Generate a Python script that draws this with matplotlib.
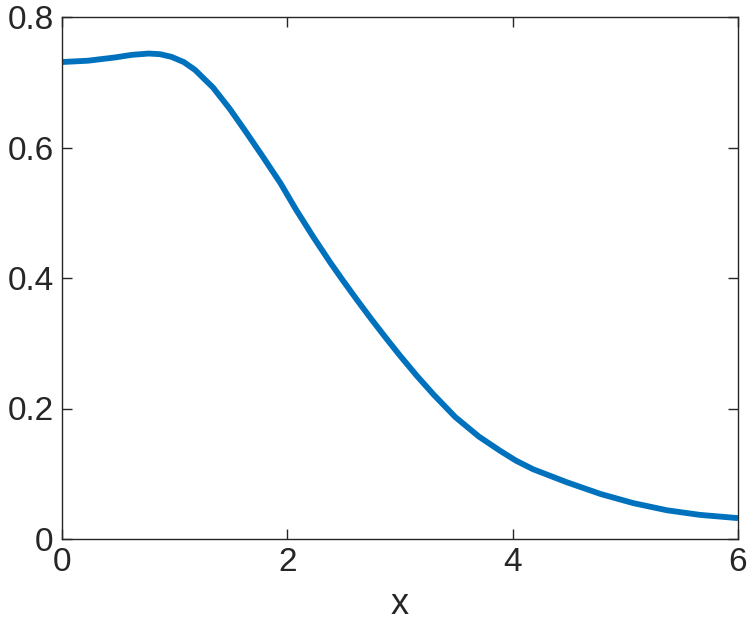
import numpy as np
import matplotlib
matplotlib.use("Agg")
import matplotlib.pyplot as plt

# values
x_vals = [0.0, 0.23, 0.47, 0.62, 0.77, 0.87, 0.97, 1.08, 1.18, 1.34, 1.49, 1.64, 1.79, 1.94, 2.08,
          2.23, 2.38, 2.49, 2.62, 2.75, 2.88, 3.0, 3.15, 3.3, 3.49, 3.7, 3.89, 4.03, 4.18, 4.48,
          4.78, 5.07, 5.37, 5.66, 6.0]
y_vals = [0.731, 0.733, 0.738, 0.742, 0.744, 0.743, 0.739, 0.731, 0.719, 0.692, 0.659, 0.622, 0.584, 0.545, 0.504,
          0.463, 0.424, 0.397, 0.366, 0.336, 0.307, 0.281, 0.250, 0.221, 0.187, 0.157, 0.135, 0.120, 0.107, 0.087,
          0.069, 0.055, 0.044, 0.037, 0.032]

x_ticks = [0, 2, 4, 6]
y_ticks = [0, 0.2, 0.4, 0.6, 0.8]
y_labels = ["0", "0.2", "0.4", "0.6", "0.8"]

plt.rcParams['font.family'] = ['Liberation Sans', 'DejaVu Sans']
axis_color = '#262626'

fig = plt.figure(figsize=(7.47, 6.23), dpi=100)
ax = fig.add_axes([62 / 747, 84 / 623, 676 / 747, 522 / 623])

ax.plot(x_vals, y_vals, color='#0072BD', linewidth=4.2,
        solid_capstyle='butt', solid_joinstyle='round')

ax.set_xlim(0, 6)
ax.set_ylim(0, 0.8)
ax.set_xticks(x_ticks)
ax.set_yticks(y_ticks)
ax.set_yticklabels(y_labels)
ax.tick_params(direction='in', length=7, width=1, top=True, right=True,
               labelsize=24, colors=axis_color, pad=6)
for s in ax.spines.values():
    s.set_color(axis_color)
    s.set_linewidth(1)
ax.set_xlabel('x', fontsize=26, color=axis_color, labelpad=6)

fig.savefig('out.png', dpi=100)
